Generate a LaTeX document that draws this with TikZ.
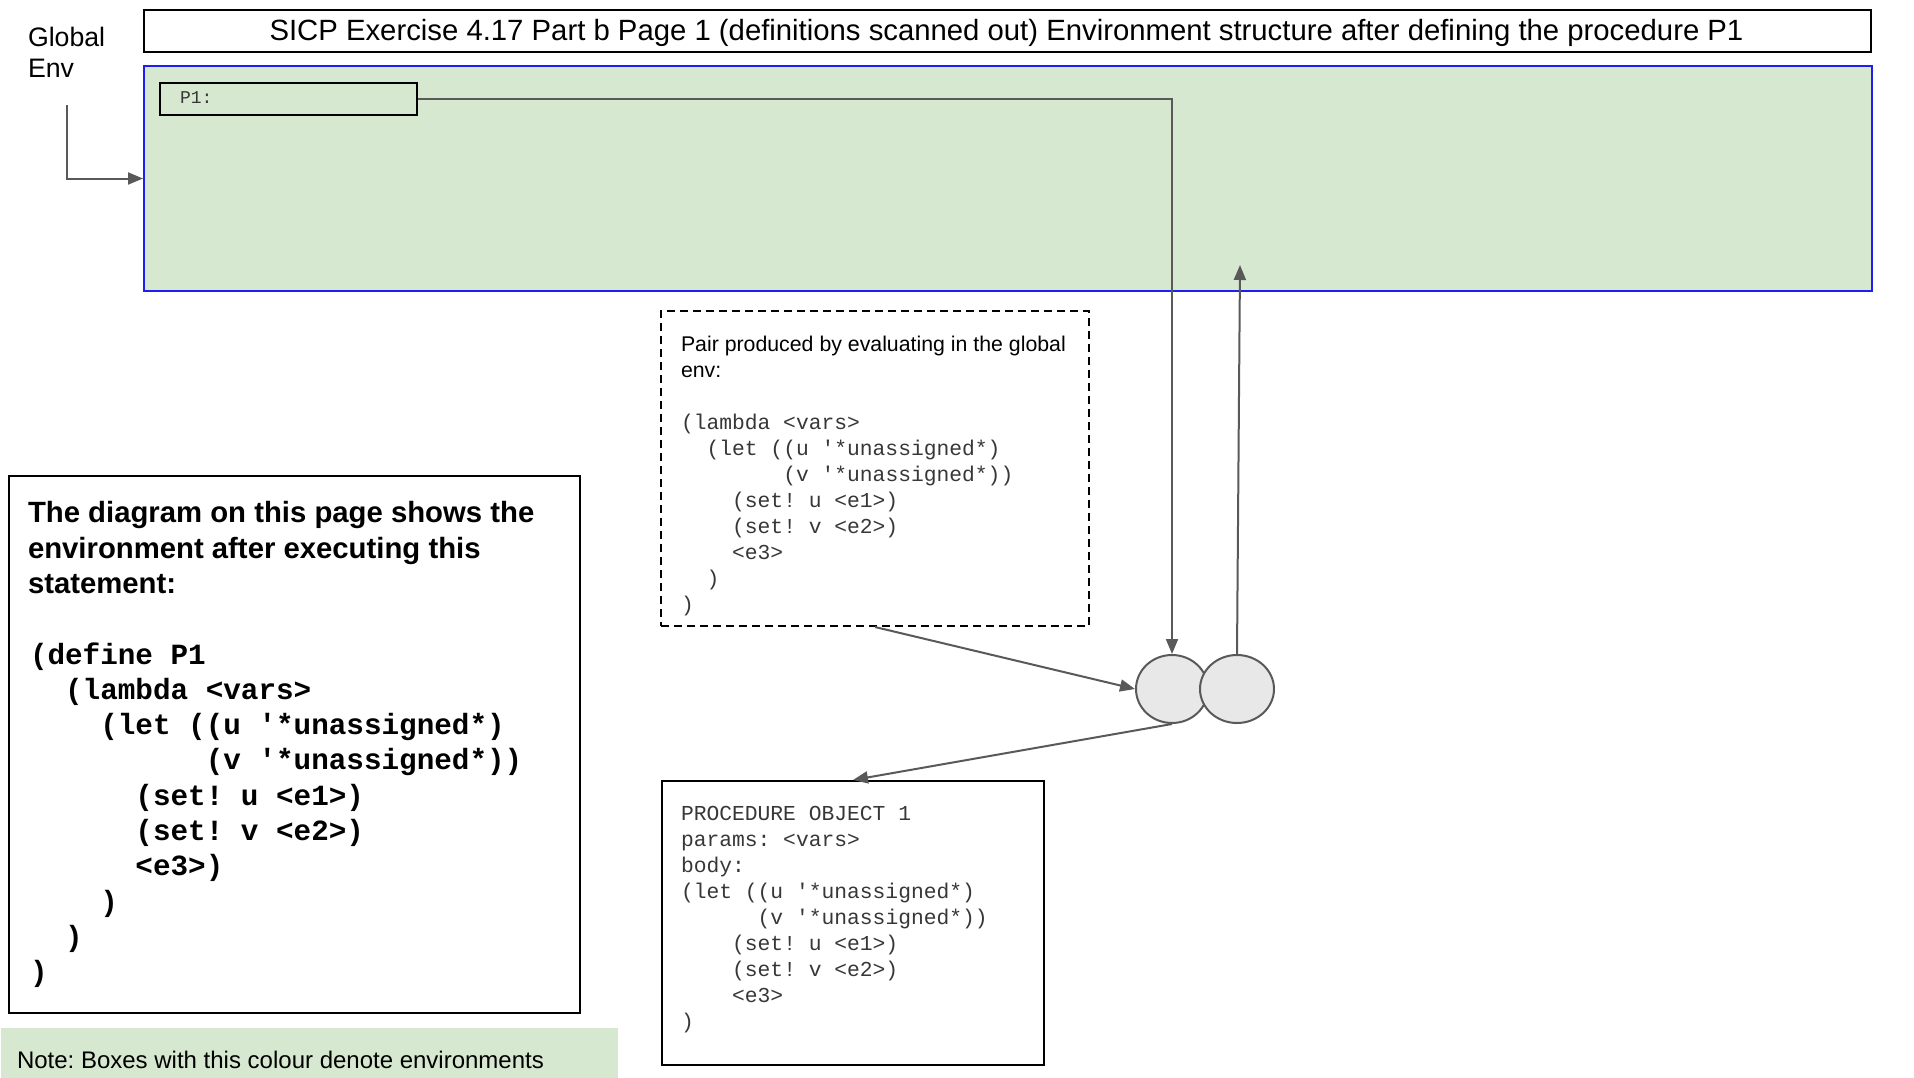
\documentclass[tikz,border=0pt]{standalone}
\usepackage{fontspec}
\setmainfont{Liberation Sans}
\setsansfont{Liberation Sans}
\setmonofont{Liberation Mono}
\usetikzlibrary{arrows.meta,shapes.geometric}
\definecolor{envgreen}{RGB}{215,232,208}
\definecolor{linegray}{RGB}{89,89,89}
\definecolor{codegray}{RGB}{55,55,55}
\definecolor{pairfill}{RGB}{232,232,232}
\definecolor{envblue}{RGB}{30,30,240}
\frenchspacing
\begin{document}
\frenchspacing
\begin{tikzpicture}[x=1pt,y=-1pt,
  conn/.style={draw=linegray,line width=2pt,-{Triangle[length=15pt,width=12pt]}},
  boxn/.style={draw=black,line width=2pt,inner sep=0pt,anchor=north west},
  txt/.style={anchor=base west,inner sep=0pt,outer sep=0pt},
  sanssm/.style={font=\fontsize{21.3}{25.6}\selectfont},
  monosm/.style={font=\ttfamily\fontsize{21.3}{26}\selectfont,text=codegray},
  monobig/.style={font=\ttfamily\bfseries\fontsize{29.3}{35}\selectfont},
  sansbig/.style={font=\bfseries\fontsize{29.3}{35}\selectfont}]
\useasboundingbox (0,0) rectangle (1914,1077);

% title
\node[boxn,minimum width=1727,minimum height=42] (title) at (143,9) {};
\node[anchor=base,inner sep=0pt,font=\fontsize{29.3}{34}\selectfont] (titlet) at (1006.5,40.5)
  {SICP Exercise 4.17 Part b Page 1 (definitions scanned out) Environment structure after defining the procedure P1};

% global env
\node[boxn,draw=envblue,fill=envgreen,minimum width=1728,minimum height=225] (env) at (143,65) {};
\node[boxn,minimum width=257,minimum height=32] (p1) at (159,82) {};
\node[txt,font=\ttfamily\fontsize{18}{20}\selectfont,text=codegray] (p1t) at (180,103.5) {P1:};
\node[txt,font=\fontsize{26.7}{30.7}\selectfont] (g1) at (28,46.6) {Global};
\node[txt,font=\fontsize{26.7}{30.7}\selectfont] (g2) at (28,77.4) {Env};
\coordinate (gs) at (67,105);
\draw[conn] (gs) |- (env.west);

% pair description
\node[boxn,dashed,dash pattern=on 8pt off 5pt,minimum width=428,minimum height=315] (pair) at (660,310) {};
\node[txt,sanssm] (pt1) at (681,351) {Pair produced by evaluating in the global};
\node[txt,sanssm] (pt2) at (681,377) {env:};
\foreach \t [count=\i from 0] in {{(lambda <vars>},{~~(let ((u '*unassigned*)},{~~~~~~~~(v '*unassigned*))},{~~~~(set! u <e1>)},{~~~~(set! v <e2>)},{~~~~<e3>},{~~)},{)}}
  \node[txt,monosm] (pl\i) at (681,429.5+25.95*\i) {\t};

% procedure object
\node[boxn,minimum width=382,minimum height=284] (proc) at (661,780) {};
\foreach \t [count=\i from 0] in {{PROCEDURE OBJECT 1},{params: <vars>},{body:},{(let ((u '*unassigned*)},{~~~~~~(v '*unassigned*))},{~~~~(set! u <e1>)},{~~~~(set! v <e2>)},{~~~~<e3>},{)}}
  \node[txt,monosm] (ql\i) at (681,820.5+26*\i) {\t};

% pair circles
\node[ellipse,draw=linegray,line width=2pt,fill=pairfill,minimum width=72,minimum height=68,inner sep=0pt] (c1) at (1172,689) {};
\node[ellipse,draw=linegray,line width=2pt,fill=pairfill,minimum width=74,minimum height=68,inner sep=0pt] (c2) at (1237,689) {};
\coordinate (uptip) at (1240,265);

\draw[conn] (p1.east) -| (c1.north);
\draw[conn] (c2.north) -- (uptip);
\draw[conn] (pair.south) -- (c1.west);
\draw[conn] (c1.south) -- (proc.north);

% statement box
\node[boxn,minimum width=571,minimum height=537] (stmt) at (8,475) {};
\node[txt,sansbig] (s1) at (28,522.5) {The diagram on this page shows the};
\node[txt,sansbig] (s2) at (28,558) {environment after executing this};
\node[txt,sansbig] (s3) at (28,593.4) {statement:};
\foreach \t [count=\i from 0] in {{(define P1},{~~(lambda <vars>},{~~~~(let ((u '*unassigned*)},{~~~~~~~~~~(v '*unassigned*))},{~~~~~~(set! u <e1>)},{~~~~~~(set! v <e2>)},{~~~~~~<e3>)},{~~~~)},{~~)},{)}}
  \node[txt,monobig] (dl\i) at (30,664+35.3*\i) {\t};

% note
\node[boxn,draw=none,fill=envgreen,minimum width=617,minimum height=50] (note) at (0,1027) {};
\node[txt,font=\fontsize{24}{28}\selectfont] (nt) at (17,1068) {Note: Boxes with this colour denote environments};
\end{tikzpicture}
\end{document}
